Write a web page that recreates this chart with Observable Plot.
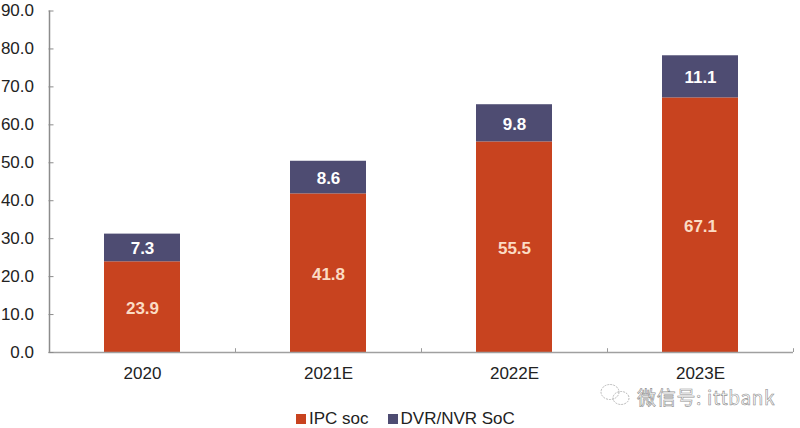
<!DOCTYPE html>
<html><head><meta charset="utf-8">
<script src="https://cdn.jsdelivr.net/npm/d3@7"></script>
<script src="https://cdn.jsdelivr.net/npm/@observablehq/plot@0.6"></script>
<style>
html,body{margin:0;padding:0;background:#fff;}
#wrap{position:relative;width:800px;height:428px;overflow:hidden;font-family:"Liberation Sans",Arial,sans-serif;}
#legend{position:absolute;left:296px;top:409px;font-size:17px;color:#222;display:flex;align-items:center;line-height:20px;white-space:nowrap;}
#legend i{display:inline-block;width:10px;height:10px;margin-right:3px;}
#mark{position:absolute;left:637px;top:387px;line-height:20px;font-family:"Noto Sans CJK SC",sans-serif;font-size:19px;letter-spacing:0.7px;color:#fff;-webkit-text-stroke:0.6px #8f8f8f;white-space:nowrap;}
#icon{position:absolute;left:599px;top:383px;}
</style></head><body><div id="wrap"><div id="chart"></div>
<svg id="icon" width="34" height="24" fill="none" stroke="#a8a8a8" stroke-width="0.8" stroke-dasharray="2 1"><ellipse cx="11" cy="9" rx="9" ry="7.5"/><ellipse cx="22" cy="15" rx="8" ry="6.5"/></svg>
<div id="mark">微信号: ittbank</div>
<div id="legend"><i style="background:#c8431f"></i><span style="margin-right:19px">IPC soc</span><i style="background:#4e4c72"></i><span>DVR/NVR SoC</span></div>
</div>
<script>
const years = ["2020","2021E","2022E","2023E"];
const ipc = [23.9,41.8,55.5,67.1];
const dvr = [7.3,8.6,9.8,11.1];
const yTicks = [0,10,20,30,40,50,60,70,80,90];
const colors = {ipc:"#c8431f", dvr:"#4e4c72"};
const rowsA = years.map((y,i)=>({year:y,s:"IPC soc",v:ipc[i],y1:0,y2:ipc[i]}));
const rowsB = years.map((y,i)=>({year:y,s:"DVR/NVR SoC",v:dvr[i],y1:ipc[i],y2:ipc[i]+dvr[i]}));
const fs = 17;
const plot = Plot.plot({
  width:800,height:395,
  marginLeft:48.5,marginRight:7,marginTop:10.5,marginBottom:43,
  style:{fontFamily:'"Liberation Sans",Arial,sans-serif',background:"transparent",overflow:"visible"},
  x:{domain:years,paddingInner:0.59,paddingOuter:0.295,label:null},
  y:{domain:[0,90],label:null},
  marks:[
    Plot.barY(rowsA,{x:"year",y1:"y1",y2:"y2",fill:colors.ipc}),
    Plot.barY(rowsB,{x:"year",y1:"y1",y2:"y2",fill:colors.dvr}),
    Plot.ruleX(years,{x:d=>d,dx:93,y1:0,y2:1,stroke:"#9a9a9a",strokeWidth:1}),
    Plot.ruleX(years.slice(0,1),{x:d=>d,dx:-93,y1:0,y2:90,stroke:"#8c8c8c",strokeWidth:1.5}),
    Plot.ruleY([0],{stroke:"#a0a0a0",strokeWidth:1.5}),
    Plot.axisY({ticks:yTicks,tickSize:-5,stroke:"#8c8c8c",text:null,label:null}),
    Plot.axisY({ticks:yTicks,tickSize:0,tickPadding:15,tickFormat:d=>d.toFixed(1),fontSize:fs,fill:"#222",label:null}),
    Plot.axisX({tickSize:0,tickPadding:14,fontSize:fs,fill:"#222",label:null}),
    Plot.text(rowsA,{x:"year",y:d=>(d.y1+d.y2)/2,dy:1,text:d=>d.v.toFixed(1),fill:"#fbdcc4",fontSize:fs,fontWeight:"bold"}),
    Plot.text(rowsB,{x:"year",y:d=>(d.y1+d.y2)/2,dy:1,text:d=>d.v.toFixed(1),fill:"#fff",fontSize:fs,fontWeight:"bold"})
  ]
});
document.getElementById("chart").appendChild(plot);
</script></body></html>
